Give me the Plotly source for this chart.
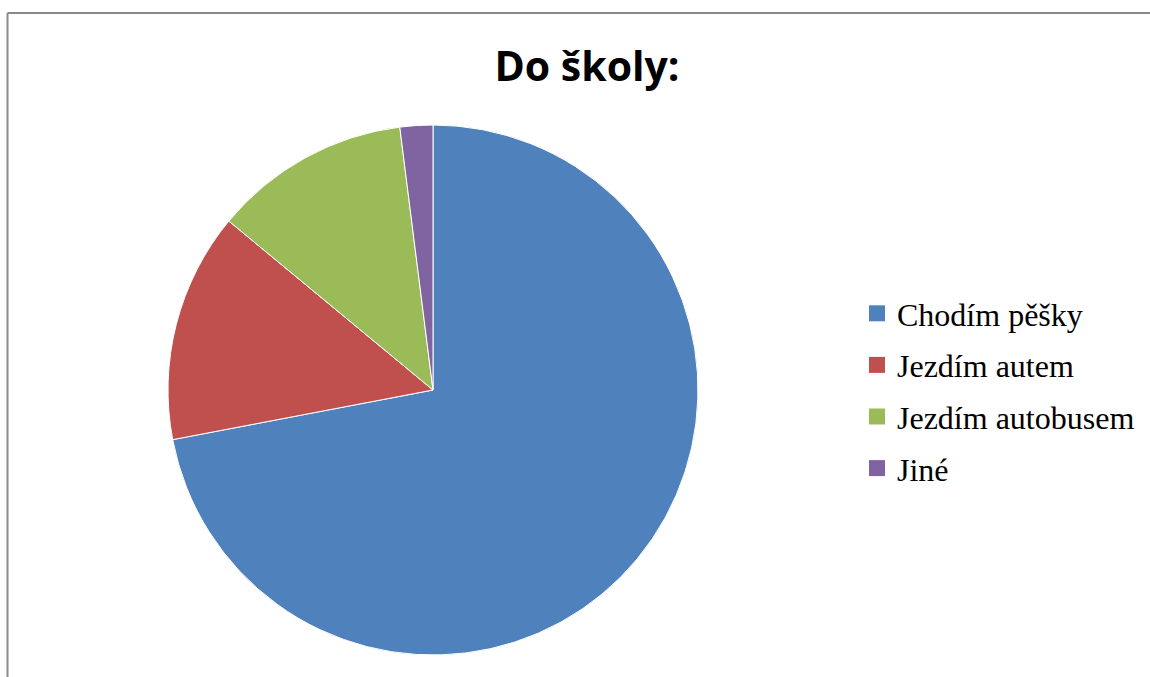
import plotly.graph_objects as go

labels = ["Chodím pěšky", "Jezdím autem", "Jezdím autobusem", "Jiné"]
values = [36, 7, 6, 1]
colors = ["#4F81BD", "#C0504D", "#9BBB59", "#8064A2"]
title_text = "Do školy:"

W, H = 1150, 677

fig = go.Figure()
fig.add_trace(go.Pie(
    labels=labels, values=values, sort=False, direction="clockwise", rotation=0,
    marker=dict(colors=colors, line=dict(color="white", width=1)),
    textinfo="none", hoverinfo="label+value+percent", showlegend=False,
    domain=dict(x=[168 / W, 698 / W], y=[1 - 655 / H, 1 - 125 / H]),
))
for lab, col in zip(labels, colors):
    fig.add_trace(go.Scatter(
        x=[None], y=[None], mode="markers", name=lab, legendgroup=lab,
        marker=dict(symbol="square", size=16, color=col),
    ))

fig.update_layout(
    width=W, height=H, margin=dict(l=0, r=0, t=0, b=0),
    paper_bgcolor="white", plot_bgcolor="white",
    xaxis=dict(visible=False), yaxis=dict(visible=False),
    title=dict(text=title_text, x=587 / W, xanchor="center", y=1 - 67 / H, yanchor="middle",
               font=dict(family="Open Sans", size=41, color="black", weight="bold")),
    legend=dict(x=857 / W, xanchor="left", y=1 - 286 / H, yanchor="top",
                font=dict(family="Liberation Serif", size=32, color="black"),
                tracegroupgap=7, bgcolor="rgba(0,0,0,0)"),
    shapes=[
        dict(type="line", xref="paper", yref="paper", x0=7.5 / W, x1=1, y0=1 - 13 / H, y1=1 - 13 / H,
             line=dict(color="#8a8a8a", width=2)),
        dict(type="line", xref="paper", yref="paper", x0=7.5 / W, x1=7.5 / W, y0=0, y1=1 - 13 / H,
             line=dict(color="#8a8a8a", width=2)),
    ],
)

fig.write_html("out.html")
